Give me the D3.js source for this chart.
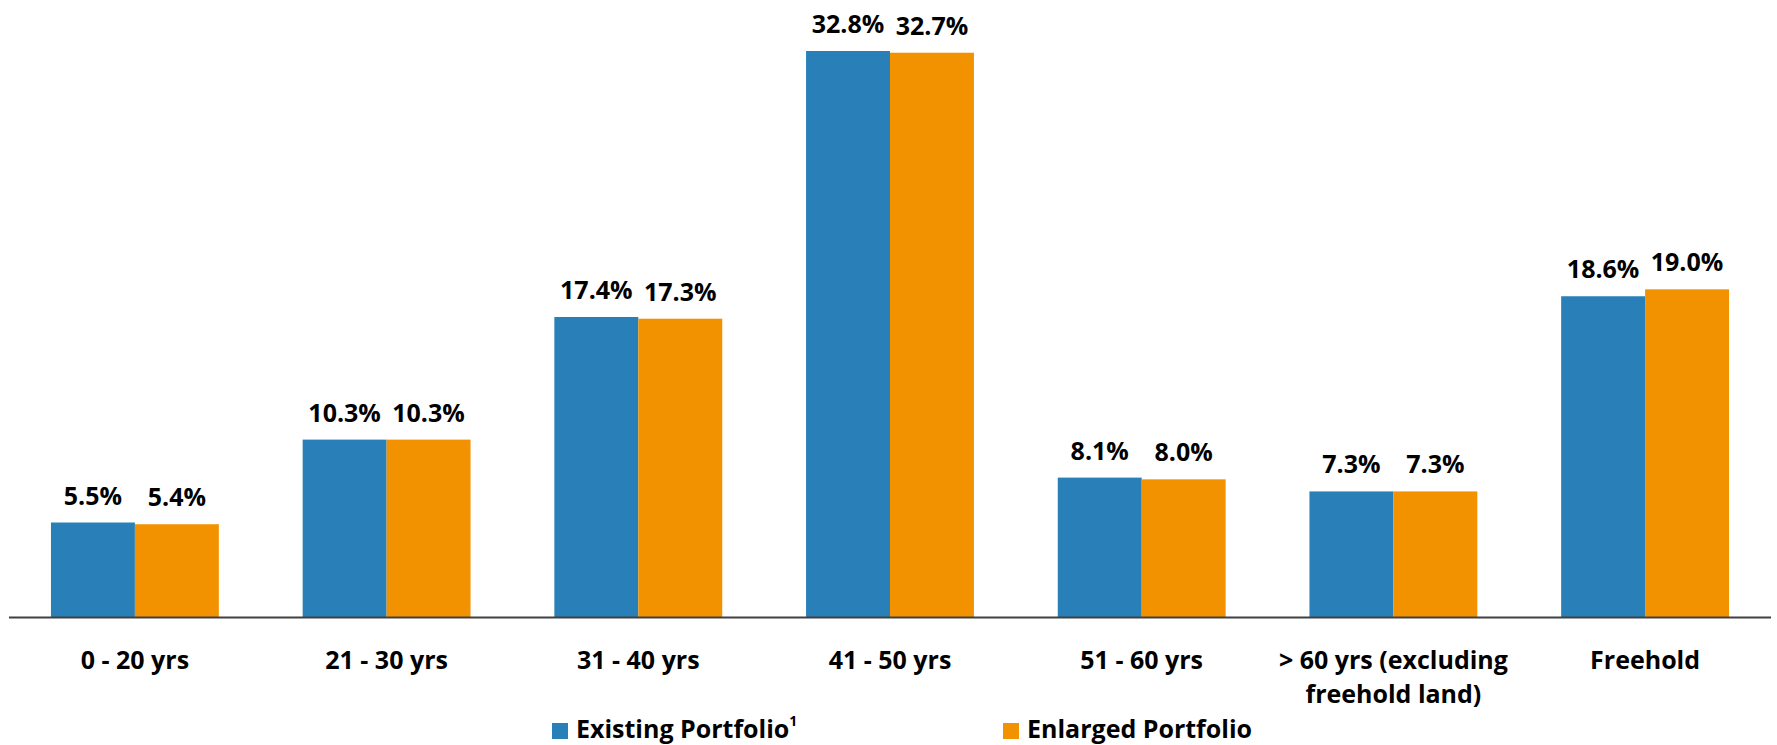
<!DOCTYPE html>
<html>
<head>
<meta charset="utf-8">
<script src="https://cdn.jsdelivr.net/npm/d3@7"></script>
<style>
  html, body { margin: 0; padding: 0; background: #fff; }
  svg text { font-family: "Open Sans", "Noto Sans", sans-serif; font-weight: 700; fill: #000; }
</style>
</head>
<body>
<div id="chart"></div>
<script>
// categories (second line of a label after "|")
var categories = ["0 - 20 yrs", "21 - 30 yrs", "31 - 40 yrs", "41 - 50 yrs", "51 - 60 yrs",
                  "> 60 yrs (excluding|freehold land)", "Freehold"];
var existing = [5.5, 10.3, 17.4, 32.8, 8.1, 7.3, 18.6];
var enlarged = [5.4, 10.3, 17.3, 32.7, 8.0, 7.3, 19.0];
var seriesNames = ["Existing Portfolio", "Enlarged Portfolio"];
var colors = ["#2980b9", "#f39200"];

var W = 1777, H = 745;
var x0 = 9, x1 = 1771, baseY = 617.5;

var svg = d3.select("#chart").append("svg")
    .attr("width", W).attr("height", H);

// x band per category, then inner band per series
var x = d3.scaleBand()
    .domain(categories)
    .range([x0, x1])
    .paddingInner(0.333)
    .paddingOuter(0.1667);

var xs = d3.scaleBand()
    .domain([0, 1])
    .range([0, x.bandwidth()]);

var y = d3.scaleLinear()
    .domain([0, 32.8])
    .range([baseY, 51]);

var rows = categories.map(function(c, i) {
  return [{cat: c, s: 0, v: existing[i]}, {cat: c, s: 1, v: enlarged[i]}];
});

var groups = svg.append("g").selectAll("g")
  .data(rows)
  .enter().append("g")
    .attr("transform", function(d) { return "translate(" + x(d[0].cat) + ",0)"; });

groups.selectAll("rect")
  .data(function(d) { return d; })
  .enter().append("rect")
    .attr("x", function(d) { return xs(d.s); })
    .attr("width", xs.bandwidth())
    .attr("y", function(d) { return y(d.v); })
    .attr("height", function(d) { return baseY - y(d.v); })
    .style("fill", function(d) { return colors[d.s]; });

// value labels
groups.selectAll("text")
  .data(function(d) { return d; })
  .enter().append("text")
    .attr("x", function(d) { return xs(d.s) + xs.bandwidth() / 2; })
    .attr("y", function(d) { return y(d.v) - 18; })
    .attr("text-anchor", "middle")
    .style("font-size", "25px")
    .text(function(d) { return d.v.toFixed(1) + "%"; });

// axis line
svg.append("line")
    .attr("x1", x0).attr("x2", x1)
    .attr("y1", baseY).attr("y2", baseY)
    .style("stroke", "#404040")
    .style("stroke-width", 2);

// category labels
var cl = svg.append("g").selectAll("text")
  .data(categories)
  .enter().append("text")
    .attr("x", function(d) { return x(d) + x.bandwidth() / 2; })
    .attr("y", 669)
    .attr("text-anchor", "middle")
    .style("font-size", "25px");

cl.selectAll("tspan")
  .data(function(d) { return d.split("|"); })
  .enter().append("tspan")
    .attr("x", function() { var p = this.parentNode; return p.getAttribute("x"); })
    .attr("dy", function(d, i) { return i === 0 ? 0 : 34; })
    .text(function(d) { return d; });

// legend
var legX = [552, 1003];
var leg = svg.append("g").selectAll("g")
  .data(seriesNames)
  .enter().append("g")
    .attr("transform", function(d, i) { return "translate(" + legX[i] + ",723)"; });

leg.append("rect")
    .attr("width", 16).attr("height", 16)
    .style("fill", function(d, i) { return colors[i]; });

var lt = leg.append("text")
    .attr("x", 24).attr("y", 15)
    .style("font-size", "25px")
    .text(function(d) { return d; });

// footnote marker on first legend entry
lt.filter(function(d, i) { return i === 0; })
  .append("tspan")
    .attr("dy", -12)
    .style("font-size", "14px")
    .text("1");
</script>
</body>
</html>
